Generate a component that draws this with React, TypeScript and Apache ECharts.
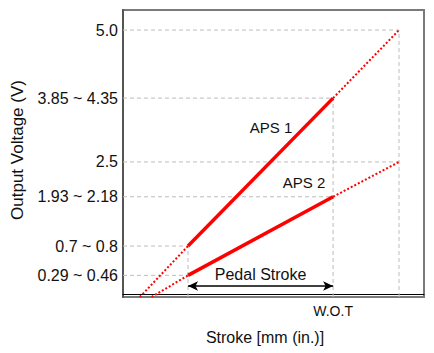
import React, { useEffect, useRef } from "react";
import * as echarts from "echarts";

// Stroke positions (schematic units 0-100) and output voltages
const aps1Stroke = [5.6, 21.6, 69.8, 91.7];
const aps1Voltage = [-0.06, 0.906, 3.71, 5.0];
const aps2Stroke = [9.5, 21.6, 69.8, 91.7];
const aps2Voltage = [-0.06, 0.35, 1.84, 2.5];

const yTickValues = [0.35, 0.906, 1.84, 2.5, 3.71, 5.0];
const yTickLabels = ["0.29 ~ 0.46", "0.7 ~ 0.8", "1.93 ~ 2.18", "2.5", "3.85 ~ 4.35", "5.0"];
const xTickValues = [69.8];
const xTickLabels = ["W.O.T"];
const pedalStrokeLevel = 0.148;

const FONT = "'Liberation Sans', Arial, Helvetica, sans-serif";
const RED = "#ff0000";
const GRID_GRAY = "#bdbdbd";

export default function App() {
  const ref = useRef<HTMLDivElement>(null);

  useEffect(() => {
    if (!ref.current) return;
    const chart = echarts.init(ref.current, null, { renderer: "svg" });
    const xMin = 0;
    const yMin = -0.06;

    const seg = (xs: number[], ys: number[], a: number, b: number) =>
      xs.slice(a, b + 1).map((x, i) => [x, ys[a + i]]);

    const lineSeries = (data: number[][], type: string, width: number) => ({
      type: "line",
      data,
      symbol: "none",
      silent: true,
      z: 5,
      lineStyle: { color: RED, width, type, cap: "butt" },
    });

    const guide = (data: number[][]) => ({
      type: "line",
      data,
      symbol: "none",
      silent: true,
      z: 2,
      lineStyle: { color: GRID_GRAY, width: 1, type: [4, 3] },
    });

    const guides: any[] = [];
    // horizontal guides from the axis to each marked point
    [
      [aps1Stroke, aps1Voltage],
      [aps2Stroke, aps2Voltage],
    ].forEach(([xs, ys]) => {
      for (let i = 1; i < xs.length; i++) {
        guides.push(guide([[xMin, ys[i]], [xs[i], ys[i]]]));
      }
    });
    // vertical guides from the bottom to APS 1 points
    for (let i = 1; i < aps1Stroke.length; i++) {
      guides.push(guide([[aps1Stroke[i], yMin], [aps1Stroke[i], aps1Voltage[i]]]));
    }

    chart.setOption({
      animation: false,
      grid: {
        left: 123,
        right: 10,
        top: 10,
        bottom: 56,
        show: true,
        borderColor: "#7a7a7a",
        borderWidth: 2,
        backgroundColor: "transparent",
      },
      xAxis: {
        type: "value",
        min: xMin,
        max: 100,
        splitLine: { show: false },
        axisTick: { show: false },
        axisLine: { show: true, lineStyle: { color: "#000", width: 1 } },
        axisLabel: {
          customValues: xTickValues,
          formatter: (v: number) => {
            const i = xTickValues.findIndex((t) => Math.abs(t - v) < 1e-6);
            return i >= 0 ? xTickLabels[i] : "";
          },
          margin: 7,
          color: "#111",
          fontSize: 14,
          fontFamily: FONT,
        },
      },
      yAxis: {
        type: "value",
        min: yMin,
        max: 5.38,
        splitLine: { show: false },
        axisTick: { show: false },
        axisLine: { show: true, lineStyle: { color: "#555", width: 2 } },
        axisLabel: {
          customValues: yTickValues,
          formatter: (v: number) => {
            const i = yTickValues.findIndex((t) => Math.abs(t - v) < 1e-6);
            return i >= 0 ? yTickLabels[i] : "";
          },
          margin: 5,
          color: "#111",
          fontSize: 16,
          fontFamily: FONT,
        },
      },
      series: [
        ...guides,
        lineSeries(seg(aps1Stroke, aps1Voltage, 0, 1), "dotted", 2),
        lineSeries(seg(aps1Stroke, aps1Voltage, 1, 2), "solid", 3.5),
        lineSeries(seg(aps1Stroke, aps1Voltage, 2, 3), "dotted", 2),
        lineSeries(seg(aps2Stroke, aps2Voltage, 0, 1), "dotted", 2),
        lineSeries(seg(aps2Stroke, aps2Voltage, 1, 2), "solid", 3.5),
        lineSeries(seg(aps2Stroke, aps2Voltage, 2, 3), "dotted", 2),
        {
          type: "line",
          data: [],
          silent: true,
          markLine: {
            silent: true,
            symbol: ["arrow", "arrow"],
            symbolSize: [7, 10],
            label: {
              show: true,
              position: "middle",
              formatter: "Pedal Stroke",
              color: "#111",
              fontSize: 16,
              fontFamily: FONT,
              distance: 4,
            },
            lineStyle: { color: "#000", width: 1.5, type: "solid" },
            data: [
              [
                { coord: [aps1Stroke[1], pedalStrokeLevel] },
                { coord: [aps1Stroke[2], pedalStrokeLevel] },
              ],
            ],
          },
        },
      ],
      graphic: [
        {
          type: "text",
          x: 271,
          y: 127,
          style: { text: "APS 1", font: `15px ${FONT}`, fill: "#111", align: "center", verticalAlign: "middle" },
        },
        {
          type: "text",
          x: 304,
          y: 182,
          style: { text: "APS 2", font: `15px ${FONT}`, fill: "#111", align: "center", verticalAlign: "middle" },
        },
        {
          type: "text",
          x: 265,
          y: 337,
          style: { text: "Stroke [mm (in.)]", font: `16px ${FONT}`, fill: "#111", align: "center", verticalAlign: "middle" },
        },
        {
          type: "text",
          x: 17,
          y: 150,
          rotation: Math.PI / 2,
          style: { text: "Output Voltage (V)", font: `17px ${FONT}`, fill: "#111", align: "center", verticalAlign: "middle" },
        },
      ],
    });
    return () => chart.dispose();
  }, []);

  return (
    <div
      ref={ref}
      style={{ position: "fixed", left: 0, top: 0, width: 434, height: 353, background: "#fff" }}
    />
  );
}
